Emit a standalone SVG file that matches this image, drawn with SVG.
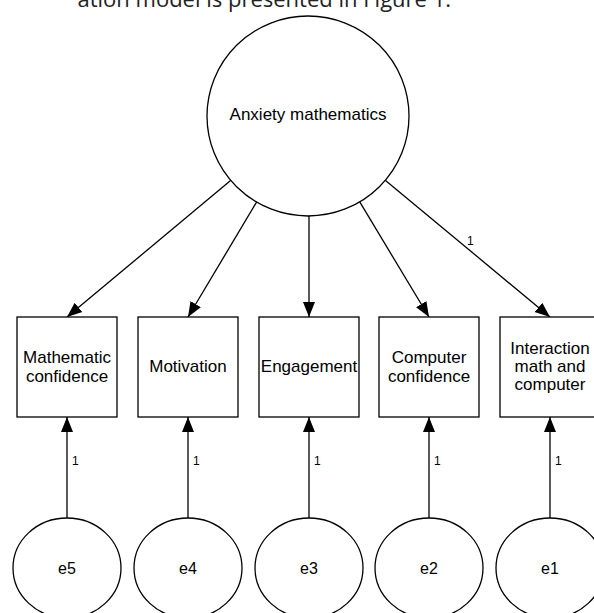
<svg xmlns="http://www.w3.org/2000/svg" width="594" height="613" viewBox="0 0 594 613">
<style>
.sh{fill:#fff;stroke:#000;stroke-width:1.3}
.ln{stroke:#000;stroke-width:1.3;fill:none}
.t{font-family:"Liberation Sans",Arial,sans-serif;font-size:17px;fill:#000;text-anchor:middle}
.e{font-family:"Liberation Sans",Arial,sans-serif;font-size:16px;fill:#000;text-anchor:middle}
.w{font-family:"Liberation Sans",Arial,sans-serif;font-size:12px;fill:#000}
.hd{font-family:"Open Sans","DejaVu Sans",sans-serif;font-size:22px;fill:#222;text-anchor:end}
</style>
<defs>
<marker id="ah" markerUnits="userSpaceOnUse" markerWidth="16" markerHeight="14" viewBox="0 0 16 14" refX="15" refY="7" orient="auto">
<path d="M0,1 L15,7 L0,13 z" fill="#000"/>
</marker>
</defs>
<text class="hd" x="451" y="7">ation model is presented in Figure 1.</text>
<g id="connectors">
<line class="ln" x1="231.2" y1="180.1" x2="67" y2="317" marker-end="url(#ah)"/>
<line class="ln" x1="256.7" y1="201.9" x2="188" y2="317" marker-end="url(#ah)"/>
<line class="ln" x1="309" y1="216" x2="309" y2="317" marker-end="url(#ah)"/>
<line class="ln" x1="359.6" y1="201.7" x2="429" y2="317" marker-end="url(#ah)"/>
<line class="ln" x1="384.9" y1="179.9" x2="550" y2="317" marker-end="url(#ah)"/>
<text class="w" x="467" y="245">1</text>
<line class="ln" x1="67" y1="518" x2="67" y2="417" marker-end="url(#ah)"/>
<line class="ln" x1="188" y1="518" x2="188" y2="417" marker-end="url(#ah)"/>
<line class="ln" x1="309" y1="518" x2="309" y2="417" marker-end="url(#ah)"/>
<line class="ln" x1="429" y1="518" x2="429" y2="417" marker-end="url(#ah)"/>
<line class="ln" x1="550" y1="518" x2="550" y2="417" marker-end="url(#ah)"/>
<text class="w" x="72" y="465">1</text>
<text class="w" x="193" y="465">1</text>
<text class="w" x="314" y="465">1</text>
<text class="w" x="434" y="465">1</text>
<text class="w" x="555" y="465">1</text>
</g>
<g id="anxiety">
<ellipse class="sh" cx="308" cy="116" rx="101" ry="100"/>
<text class="t" x="308" y="120">Anxiety mathematics</text>
</g>
<g id="mathconf">
<rect class="sh" x="17" y="317" width="100" height="100"/>
<text class="t" x="67" y="363">Mathematic</text>
<text class="t" x="67" y="382">confidence</text>
</g>
<g id="motivation">
<rect class="sh" x="138" y="317" width="100" height="100"/>
<text class="t" x="188" y="372">Motivation</text>
</g>
<g id="engagement">
<rect class="sh" x="259" y="317" width="100" height="100"/>
<text class="t" x="309" y="372">Engagement</text>
</g>
<g id="compconf">
<rect class="sh" x="379" y="317" width="100" height="100"/>
<text class="t" x="429" y="363">Computer</text>
<text class="t" x="429" y="382">confidence</text>
</g>
<g id="interaction">
<rect class="sh" x="500" y="317" width="100" height="100"/>
<text class="t" x="550" y="354">Interaction</text>
<text class="t" x="550" y="372">math and</text>
<text class="t" x="550" y="390">computer</text>
</g>
<g id="e5"><ellipse class="sh" cx="67" cy="568" rx="54" ry="50"/><text class="e" x="67" y="574">e5</text></g>
<g id="e4"><ellipse class="sh" cx="188" cy="568" rx="54" ry="50"/><text class="e" x="188" y="574">e4</text></g>
<g id="e3"><ellipse class="sh" cx="309" cy="568" rx="54" ry="50"/><text class="e" x="309" y="574">e3</text></g>
<g id="e2"><ellipse class="sh" cx="429" cy="568" rx="54" ry="50"/><text class="e" x="429" y="574">e2</text></g>
<g id="e1"><ellipse class="sh" cx="550" cy="568" rx="54" ry="50"/><text class="e" x="550" y="574">e1</text></g>
</svg>
